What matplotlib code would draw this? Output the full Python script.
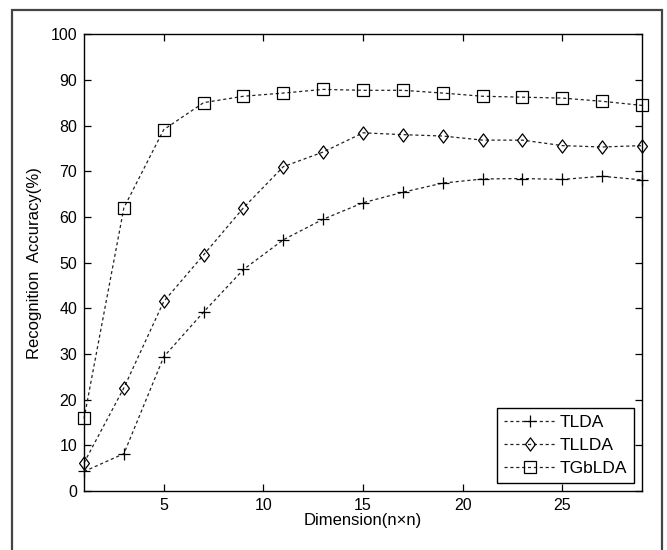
import numpy as np
import matplotlib
matplotlib.use("Agg")
import matplotlib.pyplot as plt
from matplotlib.patches import Rectangle
from matplotlib.path import Path

plt.rcParams['font.family'] = ['Liberation Sans', 'DejaVu Sans']

# dimension n (n x n)
dims = [1, 3, 5, 7, 9, 11, 13, 15, 17, 19, 21, 23, 25, 27, 29]

tlda = [4.3, 8.2, 29.4, 39.2, 48.5, 55.0, 59.5, 63.1, 65.4, 67.4, 68.3, 68.4, 68.2, 68.9, 68.1]
tllda = [6.2, 22.6, 41.5, 51.7, 62.0, 71.0, 74.2, 78.4, 78.0, 77.7, 76.8, 76.8, 75.6, 75.3, 75.6]
tgblda = [15.9, 62.0, 79.1, 85.0, 86.4, 87.1, 87.9, 87.7, 87.7, 87.1, 86.4, 86.2, 86.0, 85.3, 84.4]

series_names = ['TLDA', 'TLLDA', 'TGbLDA']

# matlab-like diamond (a bit wider than mpl's thin diamond)
diamond = Path([(0, 1), (0.75, 0), (0, -1), (-0.75, 0), (0, 1)],
               [Path.MOVETO, Path.LINETO, Path.LINETO, Path.LINETO, Path.CLOSEPOLY])
markers = ['+', diamond, 's']
sizes = [9, 9.5, 8]

fig = plt.figure(figsize=(6.67, 5.5), dpi=100)
ax = fig.add_axes([0.126, 0.107, 0.8366, 0.831])

for vals, name, mk, ms in zip([tlda, tllda, tgblda], series_names, markers, sizes):
    ax.plot(dims, vals, color='#222222', linewidth=0.9, dashes=(2.5, 2.2),
            marker=mk, markersize=ms, markerfacecolor='none',
            markeredgecolor='black', markeredgewidth=0.9, label=name,
            clip_on=False)

ax.set_xlim(1, 29)
ax.set_ylim(0, 100)
ax.set_xticks([5, 10, 15, 20, 25])
ax.set_yticks(np.arange(0, 101, 10))
ax.tick_params(direction='in', length=5, width=0.9, top=True, right=True,
               labelsize=11.5, pad=5)
for sp in ax.spines.values():
    sp.set_linewidth(1.0)

ax.set_xlabel('Dimension(n\u00d7n)', fontsize=12, labelpad=0)
ax.set_ylabel('Recognition  Accuracy(%)', fontsize=12, labelpad=6)

leg = ax.legend(loc='lower right', bbox_to_anchor=(0.9857, 0.0175),
                borderaxespad=0, fontsize=12.5, handlelength=3.0,
                handletextpad=0.2, labelspacing=0.45, borderpad=0.4,
                fancybox=False, framealpha=1, edgecolor='black')
leg.get_frame().set_linewidth(1.0)

# outer figure frame
fig.patches.append(Rectangle((12 / 667, -0.02), 650 / 667, 1.0 - 10 / 550 + 0.02,
                             transform=fig.transFigure, fill=False,
                             edgecolor='#444444', linewidth=1.6))

fig.savefig('out.png', dpi=100)
